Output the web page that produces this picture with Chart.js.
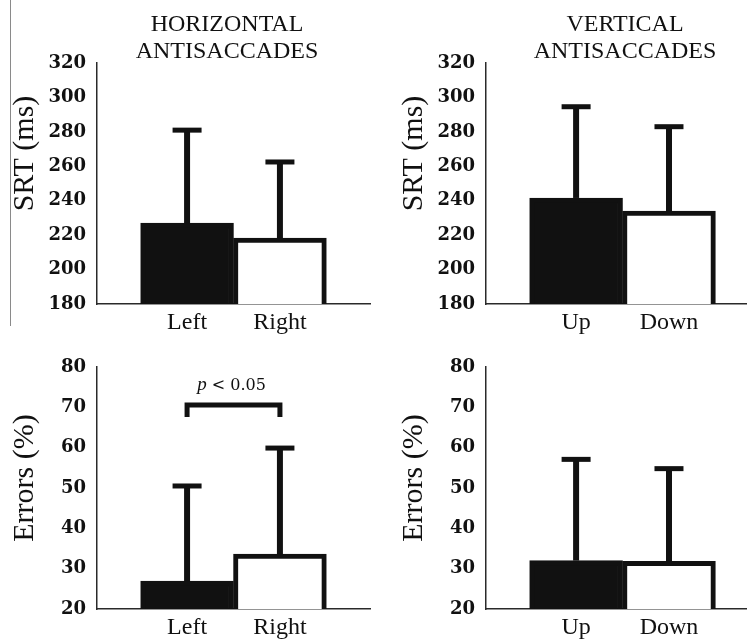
<!DOCTYPE html>
<html>
<head>
<meta charset="utf-8">
<script src="https://cdn.jsdelivr.net/npm/chart.js@4.4.0/dist/chart.umd.min.js"></script>
<style>
  html, body { margin: 0; padding: 0; background: #fff; }
  #page { position: relative; width: 747px; height: 644px; overflow: hidden; }
  .panel { position: absolute; }
</style>
</head>
<body>
<div id="page">
  <div class="panel" style="left:0;top:0;width:372px;height:345px"><canvas id="srtH"></canvas></div>
  <div class="panel" style="left:389px;top:0;width:358px;height:345px"><canvas id="srtV"></canvas></div>
  <div class="panel" style="left:0;top:345px;width:372px;height:299px"><canvas id="errH"></canvas></div>
  <div class="panel" style="left:389px;top:345px;width:358px;height:299px"><canvas id="errV"></canvas></div>
</div>
<script>
// data
const horizontalLabels = ['Left', 'Right'];
const verticalLabels = ['Up', 'Down'];

const srtHorizontal = [227, 218.3];
const srtHorizontalSD = [54, 44.2];
const srtVertical = [241.6, 234];
const srtVerticalSD = [53, 49];

const errHorizontal = [26.9, 33.6];
const errHorizontalSD = [23.6, 26.3];
const errVertical = [32, 31.8];
const errVerticalSD = [25.1, 23];

const srtTicks = [180, 200, 220, 240, 260, 280, 300, 320];
const errTicks = [20, 30, 40, 50, 60, 70, 80];

const INK = '#111';
const AXIS = '#2a2a2a';

Chart.defaults.font.family = 'Liberation Serif';
Chart.defaults.color = INK;

// one-sided error bars with caps, drawn through the chart scales
const errorBars = {
  id: 'errorBars',
  afterDatasetsDraw(chart, args, opts) {
    const { ctx, scales: { y } } = chart;
    const values = chart.data.datasets[0].data;
    ctx.save();
    ctx.strokeStyle = INK;
    chart.getDatasetMeta(0).data.forEach((bar, i) => {
      const top = y.getPixelForValue(values[i].y + opts.sd[i]);
      ctx.lineWidth = 6;
      ctx.beginPath();
      ctx.moveTo(bar.x, bar.y);
      ctx.lineTo(bar.x, top);
      ctx.stroke();
      ctx.lineWidth = 5;
      ctx.beginPath();
      ctx.moveTo(bar.x - 14.5, top);
      ctx.lineTo(bar.x + 14.5, top);
      ctx.stroke();
    });
    ctx.restore();
  }
};

// panel heading, rotated y title, significance bracket
const panelText = {
  id: 'panelText',
  afterDraw(chart, args, o) {
    const { ctx, chartArea: a, scales: { x, y } } = chart;
    ctx.save();
    ctx.fillStyle = INK;
    ctx.strokeStyle = INK;

    if (o.edgeLine) {
      ctx.save();
      ctx.strokeStyle = '#8a8a8a';
      ctx.lineWidth = 1;
      ctx.beginPath();
      ctx.moveTo(10.5, 0);
      ctx.lineTo(10.5, 326);
      ctx.stroke();
      ctx.restore();
    }

    if (o.title) {
      ctx.textAlign = 'center';
      ctx.textBaseline = 'alphabetic';
      ctx.font = '24px "Liberation Serif"';
      o.title.forEach((line, i) => ctx.fillText(line, o.titleX, 31 + i * 27));
    }

    if (o.bracket) {
      const b = o.bracket;
      const x1 = x.getPixelForValue(1);
      const x2 = x.getPixelForValue(2);
      const yTop = y.getPixelForValue(b.top);
      const yLeg = y.getPixelForValue(b.leg);
      ctx.lineWidth = 5;
      ctx.lineJoin = 'miter';
      ctx.beginPath();
      ctx.moveTo(x1, yLeg);
      ctx.lineTo(x1, yTop);
      ctx.lineTo(x2, yTop);
      ctx.lineTo(x2, yLeg);
      ctx.stroke();

      const base = y.getPixelForValue(b.labelAt);
      ctx.textBaseline = 'alphabetic';
      ctx.textAlign = 'left';
      ctx.font = 'italic 19px "Liberation Serif"';
      const pw = ctx.measureText('p').width;
      ctx.font = '16px "DejaVu Serif"';
      const rest = ' < 0.05';
      const rw = ctx.measureText(rest).width;
      const left = (x1 + x2) / 2 - 2 - (pw + rw) / 2;
      ctx.font = 'italic 19px "Liberation Serif"';
      ctx.fillText('p', left, base);
      ctx.font = '16px "DejaVu Serif"';
      ctx.fillText(rest, left + pw, base);
    }

    ctx.translate(o.yTitleX, (a.top + a.bottom) / 2 + o.yTitleShift);
    ctx.rotate(-Math.PI / 2);
    ctx.textAlign = 'center';
    ctx.textBaseline = 'middle';
    ctx.font = '30px "Liberation Serif"';
    ctx.fillText(o.yTitle, 0, 0);
    ctx.restore();
  }
};

function drawPanel(id, p) {
  return new Chart(document.getElementById(id), {
    type: 'bar',
    data: {
      datasets: [{
        data: p.values.map((v, i) => ({ x: i + 1, y: v })),
        backgroundColor: [INK, '#fff'],
        borderColor: INK,
        borderWidth: 5,
        borderSkipped: 'start',
        base: p.yTicks[0],
        barThickness: 'flex',
        barPercentage: 1,
        categoryPercentage: 1
      }]
    },
    options: {
      responsive: true,
      maintainAspectRatio: false,
      animation: false,
      layout: { padding: { top: p.padTop, right: p.padRight, left: 0, bottom: 0 } },
      scales: {
        x: {
          type: 'linear',
          offset: false,
          min: p.xMin,
          max: p.xMax,
          grid: { display: false, drawTicks: false, offset: false },
          border: { color: AXIS, width: 1.5 },
          afterBuildTicks: s => { s.ticks = p.labels.map((l, i) => ({ value: i + 1 })); },
          afterFit: s => { s.height = p.xAxisHeight; },
          ticks: {
            padding: 4,
            maxRotation: 0,
            autoSkip: false,
            color: INK,
            font: { family: 'Liberation Serif', size: 24 },
            callback: (v, i) => p.labels[i]
          }
        },
        y: {
          min: p.yTicks[0],
          max: p.yTicks[p.yTicks.length - 1],
          grid: { display: false, drawTicks: false },
          border: { color: AXIS, width: 1.5 },
          afterBuildTicks: s => { s.ticks = p.yTicks.map(v => ({ value: v })); },
          afterFit: s => { s.width = 97; },
          ticks: {
            padding: 11,
            color: INK,
            font: { family: 'DejaVu Serif', size: 18, weight: 'bold' }
          }
        }
      },
      plugins: {
        legend: { display: false },
        tooltip: { enabled: false },
        errorBars: { sd: p.sd },
        panelText: {
          title: p.title,
          titleX: p.titleX,
          yTitle: p.yTitle,
          yTitleX: 25,
          yTitleShift: p.yTitleShift,
          bracket: p.bracket,
          edgeLine: p.edgeLine
        }
      }
    },
    plugins: [errorBars, panelText]
  });
}

drawPanel('srtH', {
  labels: horizontalLabels, values: srtHorizontal, sd: srtHorizontalSD, yTicks: srtTicks,
  title: ['HORIZONTAL', 'ANTISACCADES'], titleX: 227, yTitle: 'SRT (ms)', yTitleShift: -30,
  xMin: 0.03, xMax: 2.97, padTop: 63, padRight: 2, xAxisHeight: 41, edgeLine: true
});

drawPanel('srtV', {
  labels: verticalLabels, values: srtVertical, sd: srtVerticalSD, yTicks: srtTicks,
  title: ['VERTICAL', 'ANTISACCADES'], titleX: 236, yTitle: 'SRT (ms)', yTitleShift: -30,
  xMin: 0.03, xMax: 2.84, padTop: 63, padRight: 0, xAxisHeight: 41
});

drawPanel('errH', {
  labels: horizontalLabels, values: errHorizontal, sd: errHorizontalSD, yTicks: errTicks,
  yTitle: 'Errors (%)', yTitleShift: -10,
  xMin: 0.03, xMax: 2.97, padTop: 22, padRight: 2, xAxisHeight: 35,
  bracket: { top: 70.6, leg: 67.6, labelAt: 74.3 }
});

drawPanel('errV', {
  labels: verticalLabels, values: errVertical, sd: errVerticalSD, yTicks: errTicks,
  yTitle: 'Errors (%)', yTitleShift: -10,
  xMin: 0.03, xMax: 2.84, padTop: 22, padRight: 0, xAxisHeight: 35
});
</script>
</body>
</html>
